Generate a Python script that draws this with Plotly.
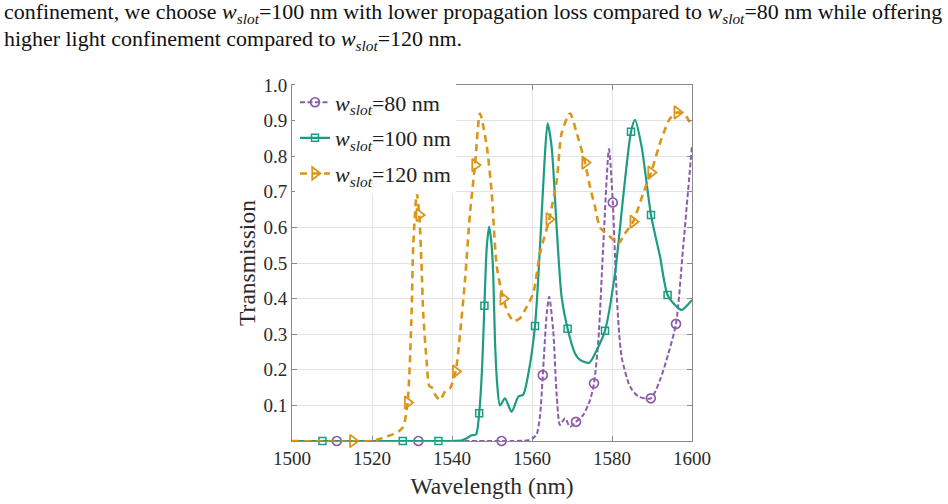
import plotly.graph_objects as go

# ---- data ----
wl_80 = [1500, 1520, 1540, 1555, 1559, 1560.3, 1561.2, 1562.0, 1562.7, 1563.7, 1564.3, 1565.3,
         1566.2, 1567.0, 1568.25, 1569.5, 1571.0, 1572.8, 1574.5, 1575.5, 1576.6, 1577.8,
         1579.25, 1580.2, 1581.2, 1582.4, 1584.5, 1586.6, 1589.7, 1592.0, 1594.1, 1596.0,
         1597.8, 1600]
t_80 = [0, 0, 0, 0, 0.002, 0.008, 0.02, 0.07, 0.185, 0.36, 0.405, 0.31,
        0.125, 0.045, 0.064, 0.04, 0.054, 0.073, 0.115, 0.162, 0.284, 0.546,
        0.82, 0.67, 0.405, 0.237, 0.153, 0.125, 0.12, 0.171, 0.246, 0.329,
        0.546, 0.83]
mk_wl_80 = [1511.2, 1531.6, 1552.4, 1562.7, 1571.0, 1575.5, 1580.2, 1589.7, 1596.0]
mk_t_80 = [0, 0, 0, 0.185, 0.054, 0.162, 0.67, 0.12, 0.329]

wl_100 = [1500, 1520, 1540, 1542.5, 1543.7, 1544.9, 1546.0, 1546.8, 1547.5, 1548.1, 1548.7,
          1549.3, 1549.9, 1550.3, 1550.75, 1551.3, 1552.0, 1553.25, 1554.9, 1556.6, 1557.8,
          1559.1, 1560.75, 1562.0, 1563.1, 1563.9, 1564.9, 1566.2, 1567.4, 1568.9, 1570.75,
          1572.0, 1574.3, 1576.6, 1578.25, 1580.75, 1582.8, 1584.75, 1585.75, 1587.4,
          1589.75, 1592.0, 1593.9, 1596.2, 1597.4, 1600]
t_100 = [0, 0, 0, 0.002, 0.008, 0.016, 0.018, 0.078, 0.2, 0.38, 0.546,
         0.602, 0.55, 0.47, 0.28, 0.16, 0.10, 0.12, 0.082, 0.125, 0.13,
         0.19, 0.323, 0.546, 0.78, 0.892, 0.827, 0.593, 0.405, 0.315, 0.246,
         0.228, 0.22, 0.265, 0.31, 0.471, 0.686, 0.869, 0.902, 0.827,
         0.635, 0.518, 0.41, 0.377, 0.368, 0.396]
mk_wl_100 = [1507.6, 1527.7, 1536.6, 1546.8, 1548.1, 1560.75, 1568.9, 1578.25, 1584.75, 1589.75, 1593.9]
mk_t_100 = [0, 0, 0, 0.078, 0.38, 0.323, 0.315, 0.31, 0.869, 0.635, 0.41]

wl_120 = [1500, 1520, 1522.5, 1525, 1526.6, 1527.8, 1528.9, 1529.9, 1530.3, 1531.2,
          1531.8, 1532.4, 1532.8, 1533.7, 1534.3, 1535.0, 1535.8, 1537.0, 1538.3, 1539.5,
          1540.9, 1542.0, 1543.25, 1544.5, 1545.75, 1547.0, 1548.7, 1549.9, 1551.2, 1552.8,
          1554.2, 1555.5, 1557.0, 1558.25, 1560.3, 1562.0, 1564.3, 1566.2, 1567.4, 1569.5,
          1571.2, 1573.25, 1574.5, 1575.75, 1577.0, 1579.5, 1581.6, 1583.25, 1585.3, 1587.8,
          1589.75, 1592.4, 1594.5, 1596.3, 1598.25, 1600]
t_120 = [0, 0, 0.008, 0.018, 0.026, 0.04, 0.108, 0.36, 0.546, 0.696,
         0.635, 0.49, 0.36, 0.218, 0.155, 0.15, 0.13, 0.115, 0.14, 0.148,
         0.195, 0.3, 0.452, 0.64, 0.775, 0.92, 0.827, 0.70, 0.49, 0.40,
         0.355, 0.337, 0.345, 0.368, 0.415, 0.527, 0.623, 0.733, 0.864, 0.92,
         0.864, 0.782, 0.714, 0.658, 0.60, 0.574, 0.555, 0.583, 0.616, 0.696,
         0.754, 0.85, 0.906, 0.923, 0.916, 0.883]
mk_wl_120 = [1515.2, 1528.9, 1531.8, 1540.9, 1545.75, 1552.8, 1564.3, 1573.25, 1585.3, 1589.75, 1596.3]
mk_t_120 = [0, 0.108, 0.635, 0.195, 0.775, 0.40, 0.623, 0.782, 0.616, 0.754, 0.923]

names = ["<i>w</i><sub><i>slot</i></sub>=80 nm",
         "<i>w</i><sub><i>slot</i></sub>=100 nm",
         "<i>w</i><sub><i>slot</i></sub>=120 nm"]
x_ticks = [1500, 1520, 1540, 1560, 1580, 1600]
y_ticks = [0.1, 0.2, 0.3, 0.4, 0.5, 0.6, 0.7, 0.8, 0.9, 1.0]

para_line1 = ("confinement, we choose <i>w</i><sub><i>slot</i></sub>=100 nm with lower propagation loss "
              "compared to <i>w</i><sub><i>slot</i></sub>=80 nm while offering")
para_line2 = "higher light confinement compared to <i>w</i><sub><i>slot</i></sub>=120 nm."

FONT = "Liberation Serif, Times New Roman, serif"
C80, C100, C120 = "#8b5ca8", "#1e9c82", "#d9961a"

series = [
    (wl_80, t_80, mk_wl_80, mk_t_80, C80, dict(width=2.0, dash="5px,2.5px"),
     dict(symbol="circle-open", size=9, line=dict(width=1.7, color=C80))),
    (wl_100, t_100, mk_wl_100, mk_t_100, C100, dict(width=2.2, dash="solid"),
     dict(symbol="square-open", size=7, line=dict(width=1.5, color=C100))),
    (wl_120, t_120, mk_wl_120, mk_t_120, C120, dict(width=2.6, dash="7px,5px"),
     dict(symbol="triangle-right-open", size=11, line=dict(width=1.8, color=C120))),
]

fig = go.Figure()
for i, (wx, wy, mx, my, col, ln, mk) in enumerate(series):
    g = "g%d" % i
    fig.add_trace(go.Scatter(x=wx, y=wy, mode="lines", line=dict(color=col, shape="spline",
                             smoothing=0.7, **ln), showlegend=False, legendgroup=g,
                             cliponaxis=False, hoverinfo="skip"))
    fig.add_trace(go.Scatter(x=mx, y=my, mode="markers", marker=dict(color=col, **mk),
                             showlegend=False, legendgroup=g, cliponaxis=False))
    fig.add_trace(go.Scatter(x=[None], y=[None], mode="lines+markers", name=names[i],
                             line=dict(color=col, **ln), marker=dict(color=col, **mk),
                             legendgroup=g, showlegend=True))

axis_common = dict(showline=True, linecolor="#8a8a8a", linewidth=1, mirror="ticks",
                   ticks="inside", ticklen=5, tickcolor="#8a8a8a", showgrid=True,
                   gridcolor="#e3e3e3", gridwidth=1, zeroline=False,
                   tickfont=dict(family=FONT, size=19, color="#2a2a2a"))

fig.update_layout(
    width=948, height=504, template="none",
    margin=dict(l=292, r=256, t=85, b=63, pad=0),
    paper_bgcolor="white", plot_bgcolor="white",
    font=dict(family=FONT, color="#222"),
    xaxis=dict(range=[1500, 1600], tickvals=x_ticks, ticktext=[str(v) for v in x_ticks],
               title=dict(text="Wavelength (nm)", font=dict(family=FONT, size=23.5, color="#2a2a2a"),
                          standoff=9), automargin=False, **axis_common),
    yaxis=dict(range=[0, 1], tickvals=y_ticks, ticktext=["%.1f" % v for v in y_ticks],
               title=dict(text="Transmission", font=dict(family=FONT, size=23.5, color="#2a2a2a"),
                          standoff=1), automargin=False, **axis_common),
    legend=dict(x=0.0075, y=1.01, xanchor="left", yanchor="top", bgcolor="white",
                borderwidth=0, font=dict(family=FONT, size=22, color="#222"),
                traceorder="grouped", tracegroupgap=4, itemwidth=30),
    annotations=[
        dict(text=para_line1, xref="paper", yref="paper", x=(3 - 292) / 400,
             y=(441 + 2) / 356, xanchor="left", yanchor="top", align="left",
             showarrow=False, borderpad=0, font=dict(family=FONT, size=21.95, color="#111")),
        dict(text=para_line2, xref="paper", yref="paper", x=(3 - 292) / 400,
             y=(441 - 25) / 356, xanchor="left", yanchor="top", align="left",
             showarrow=False, borderpad=0, font=dict(family=FONT, size=21.95, color="#111")),
    ],
)

fig.write_html("out.html")
